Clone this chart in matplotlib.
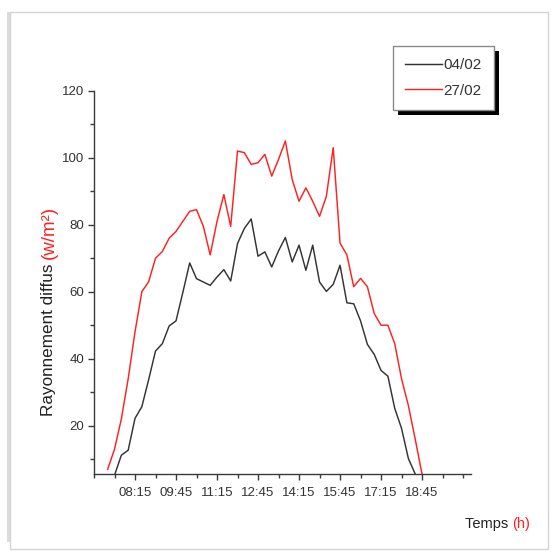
import numpy as np
import matplotlib
matplotlib.use('Agg')
import matplotlib.pyplot as plt
from matplotlib.patches import Rectangle
from matplotlib.ticker import FixedLocator, FuncFormatter

plt.rcParams['font.family'] = ['Liberation Sans', 'DejaVu Sans']

# mesures toutes les 15 minutes (heures décimales)
t_0402 = np.arange(7.5, 18.51, 0.25)
t_2702 = np.arange(7.25, 18.76, 0.25)

# rayonnement diffus du 04/02 (07:30 -> 18:30)
ray_0402 = [5.2, 11.2, 12.7, 22.2, 25.7, 33.8, 42.3, 44.5, 49.8, 51.3,
            59.8, 68.6, 63.9, 62.9, 61.9,
            64.4, 66.6, 63.2, 74.4, 78.9, 81.7, 70.6, 71.9, 67.4, 72.2,
            76.2, 68.9, 73.9, 66.4, 73.9, 62.9, 60.1, 62.2, 67.9,
            56.7, 56.4, 51.3, 44.3, 41.3, 36.5, 34.8, 25.2, 19.2, 10.2, 5.6]

# rayonnement diffus du 27/02 (07:15 -> 18:45)
ray_2702 = [7.0, 13.0, 22.0, 34.0, 48.0, 60.0, 63.0, 70.0, 72.0, 76.0,
            78.0, 81.0, 84.0, 84.5, 79.5, 71.0, 81.0, 89.0, 79.5, 102.0,
            101.5, 98.0, 98.5, 101.0, 94.5, 99.5, 105.0, 93.5, 87.0, 91.0,
            87.0, 82.5, 88.5, 103.0, 74.5, 71.0, 61.5, 64.0, 61.5, 53.5,
            50.0, 50.0, 44.5, 34.0, 26.0, 16.0, 5.5]

major_x = [8.25, 9.75, 11.25, 12.75, 14.25, 15.75, 17.25, 18.75]
minor_x = np.arange(6.75, 20.5, 0.75)


def hhmm(h, pos=None):
    return '%02d:%02d' % (int(h), round((h - int(h)) * 60))


fig = plt.figure(figsize=(5.6, 5.52), dpi=100)

# cadre de la figure avec ombre
W, H = 560, 552
fig.patches.append(Rectangle((7 / W, 10 / H), 3 / W, 530 / H, transform=fig.transFigure,
                             facecolor='#dcdcdc', edgecolor='none', zorder=-2))
fig.patches.append(Rectangle((10 / W, 3 / H), 538 / W, 537 / H, transform=fig.transFigure,
                             facecolor='none', edgecolor='#d4d4d4', linewidth=1, zorder=-1))

ax = fig.add_axes([94 / W, 78 / H, 377 / W, 383.3 / H])
ax.set_facecolor('none')
ax.set_zorder(2)

ax.plot(t_0402, ray_0402, color='#333333', lw=1.05, label='04/02')
ax.plot(t_2702, ray_2702, color='#ff2020', lw=1.05, label='27/02')

ax.set_xlim(6.75, 20.54)
ax.set_ylim(5.6, 120)

for s in ['top', 'right']:
    ax.spines[s].set_visible(False)
for s in ['left', 'bottom']:
    ax.spines[s].set_color('#3a3a3a')
    ax.spines[s].set_linewidth(1.0)

ax.xaxis.set_major_locator(FixedLocator(major_x))
ax.xaxis.set_minor_locator(FixedLocator(minor_x))
ax.xaxis.set_major_formatter(FuncFormatter(hhmm))
ax.yaxis.set_major_locator(FixedLocator([20, 40, 60, 80, 100, 120]))
ax.yaxis.set_minor_locator(FixedLocator([10, 30, 50, 70, 90, 110]))

ax.tick_params(which='both', direction='out', color='#3a3a3a', width=1.0,
               labelsize=9.5, labelcolor='#333333')
ax.tick_params(which='major', length=4)
ax.tick_params(which='minor', length=3)
ax.tick_params(axis='x', pad=5)
ax.tick_params(axis='y', pad=3)

# titre de l'axe y en deux couleurs
t1 = fig.text(49 / W, 1 - 416 / H, 'Rayonnement diffus ', rotation=90,
              ha='center', va='bottom', fontsize=12.3, color='#222222')
fig.add_artist(plt.Annotation('(w/m²)', xy=(0.5, 1.0), xycoords=t1, rotation=90,
                              ha='center', va='bottom', fontsize=13.5, color='#ff2020'))

# titre de l'axe x
t2 = fig.text(465 / W, 1 - 524 / H, 'Temps ', ha='left', va='center',
              fontsize=10.5, color='#222222')
fig.add_artist(plt.Annotation('(h)', xy=(1.0, 0.5), xycoords=t2, ha='left', va='center',
                              fontsize=10.5, color='#ff2020'))

leg = ax.legend(loc='upper left', bbox_to_anchor=(393 / W, 1 - 46 / H),
                bbox_transform=fig.transFigure, borderaxespad=0,
                fontsize=11, frameon=True, fancybox=False, shadow=False,
                framealpha=1.0, handlelength=2.4, handletextpad=0.1,
                labelspacing=0.75, borderpad=0.8)
leg.get_frame().set_edgecolor('#8a8a8a')
leg.get_frame().set_linewidth(1.0)
for txt in leg.get_texts():
    txt.set_color('#333333')

# ombre noire décalée sous la légende
fig.canvas.draw()
bb = leg.get_window_extent()
fig.patches.append(Rectangle(((bb.x0 + 5) / W, (bb.y0 - 5) / H), bb.width / W, bb.height / H,
                             transform=fig.transFigure, facecolor='black',
                             edgecolor='none', zorder=1))

fig.savefig('out.png', dpi=100)
